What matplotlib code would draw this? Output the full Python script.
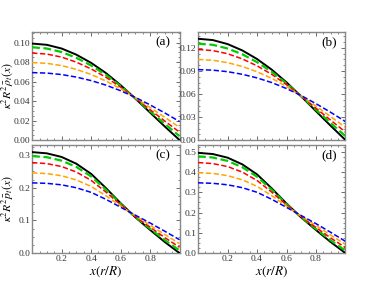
import matplotlib
matplotlib.use("Agg")
import matplotlib.pyplot as plt
from matplotlib.ticker import MultipleLocator, AutoMinorLocator

plt.rcParams['font.family'] = 'Liberation Serif'
plt.rcParams['mathtext.fontset'] = 'stix'

x = [0.0, 0.1, 0.2, 0.3, 0.4, 0.5, 0.6, 0.7, 0.8, 0.9, 1.0]

# panel (a)
a_black = [0.0990, 0.0977, 0.0939, 0.0876, 0.0792, 0.0688, 0.0564, 0.0426, 0.0282, 0.0139, 0.0]
a_green = [0.0952, 0.0939, 0.0903, 0.0844, 0.0765, 0.0669, 0.0555, 0.0428, 0.0296, 0.0166, 0.0040]
a_red = [0.0893, 0.0882, 0.0851, 0.0799, 0.0730, 0.0645, 0.0543, 0.0430, 0.0312, 0.0195, 0.0081]
a_orange = [0.0795, 0.0787, 0.0764, 0.0725, 0.0673, 0.0606, 0.0526, 0.0434, 0.0335, 0.0233, 0.0130]
a_blue = [0.0692, 0.0687, 0.0672, 0.0646, 0.0610, 0.0564, 0.0506, 0.0438, 0.0361, 0.0278, 0.0190]

# panel (b)
b_black = [0.1320, 0.1303, 0.1251, 0.1168, 0.1056, 0.0917, 0.0752, 0.0568, 0.0376, 0.0185, 0.0]
b_green = [0.1256, 0.1241, 0.1193, 0.1118, 0.1015, 0.0889, 0.0738, 0.0570, 0.0395, 0.0220, 0.0051]
b_red = [0.1180, 0.1166, 0.1125, 0.1058, 0.0967, 0.0856, 0.0722, 0.0572, 0.0415, 0.0258, 0.0104]
b_orange = [0.1050, 0.1040, 0.1009, 0.0959, 0.0890, 0.0804, 0.0697, 0.0575, 0.0443, 0.0305, 0.0165]
b_blue = [0.0918, 0.0911, 0.0891, 0.0857, 0.0810, 0.0749, 0.0671, 0.0579, 0.0474, 0.0361, 0.0240]

# panel (c)
c_black = [0.3090, 0.3053, 0.2942, 0.2735, 0.2426, 0.1993, 0.1530, 0.1097, 0.0711, 0.0340, 0.0]
c_green = [0.2969, 0.2934, 0.2830, 0.2637, 0.2348, 0.1944, 0.1512, 0.1107, 0.0747, 0.0400, 0.0082]
c_red = [0.2770, 0.2739, 0.2649, 0.2481, 0.2227, 0.1870, 0.1484, 0.1121, 0.0795, 0.0476, 0.0180]
c_orange = [0.2456, 0.2433, 0.2367, 0.2238, 0.2041, 0.1757, 0.1445, 0.1141, 0.0858, 0.0570, 0.0290]
c_blue = [0.2150, 0.2135, 0.2089, 0.2000, 0.1859, 0.1648, 0.1405, 0.1161, 0.0923, 0.0670, 0.0410]

# panel (d)
d_black = [0.4950, 0.4891, 0.4712, 0.4381, 0.3886, 0.3193, 0.2450, 0.1757, 0.1139, 0.0545, 0.0]
d_green = [0.4776, 0.4720, 0.4552, 0.4241, 0.3775, 0.3123, 0.2423, 0.1771, 0.1190, 0.0631, 0.0118]
d_red = [0.4470, 0.4420, 0.4273, 0.4000, 0.3586, 0.3007, 0.2381, 0.1793, 0.1264, 0.0749, 0.0270]
d_orange = [0.3970, 0.3934, 0.3825, 0.3617, 0.3296, 0.2832, 0.2320, 0.1824, 0.1360, 0.0890, 0.0430]
d_blue = [0.3470, 0.3446, 0.3372, 0.3231, 0.3003, 0.2657, 0.2258, 0.1854, 0.1454, 0.1025, 0.0580]

panels = [
    ('(a)', [a_black, a_green, a_red, a_orange, a_blue], 0.111, 0.02, '%.2f'),
    ('(b)', [b_black, b_green, b_red, b_orange, b_blue], 0.141, 0.03, '%.2f'),
    ('(c)', [c_black, c_green, c_red, c_orange, c_blue], 0.331, 0.1, '%.1f'),
    ('(d)', [d_black, d_green, d_red, d_orange, d_blue], 0.534, 0.1, '%.1f'),
]

colors = ['#00cc00', 'red', 'orange', 'blue']
ylabels = [r'$\kappa^2 R^2 \bar{\rho}_t(x)$', r'$\kappa^2 R^2 \bar{p}_t(x)$']

fig = plt.figure(figsize=(3.78, 2.87), dpi=100)
lefts = [0.085, 0.524]
bottoms = [0.512, 0.118]
w = 0.39
h = 0.377

for i, (tag, curves, ytop, ystep, fmt) in enumerate(panels):
    ax = fig.add_axes([lefts[i % 2], bottoms[i // 2], w, h])
    ax.plot(x, curves[0], color='black', lw=1.4, zorder=3)
    for ys, col in zip(curves[1:], colors):
        lw = 1.6 if col == '#00cc00' else 1.1
        ax.plot(x, ys, color=col, lw=lw, ls=(0, (3.5, 1.6)), zorder=4)
    ax.set_xlim(0, 1)
    ax.set_ylim(0, ytop)
    ax.xaxis.set_major_locator(MultipleLocator(0.2))
    ax.xaxis.set_minor_locator(AutoMinorLocator(4))
    ax.yaxis.set_major_locator(MultipleLocator(ystep))
    ax.yaxis.set_minor_locator(AutoMinorLocator(4))
    ax.yaxis.set_major_formatter(matplotlib.ticker.FormatStrFormatter(fmt))
    ax.tick_params(which='both', direction='in', top=True, right=True,
                   labelsize=6.8, colors='#555555', labelcolor='#333333', pad=1.2)
    ax.tick_params(which='major', length=3, width=0.6)
    ax.tick_params(which='minor', length=1.6, width=0.5)
    for s in ax.spines.values():
        s.set_color('#888888')
        s.set_linewidth(1.0)
    if i < 2:
        ax.set_xticklabels([])
    else:
        ax.set_xticks([0.2, 0.4, 0.6, 0.8])
        ax.set_xlabel(r'$x(r/R)$', fontsize=9.5, labelpad=1)
    if i % 2 == 0:
        ax.set_ylabel(ylabels[i // 2], fontsize=8.5)
        ax.yaxis.set_label_coords(-0.118, 0.5)
    ax.text(0.94, 0.9, tag, transform=ax.transAxes, ha='right', va='center', fontsize=9.5)

fig.savefig('out.png', dpi=100)
